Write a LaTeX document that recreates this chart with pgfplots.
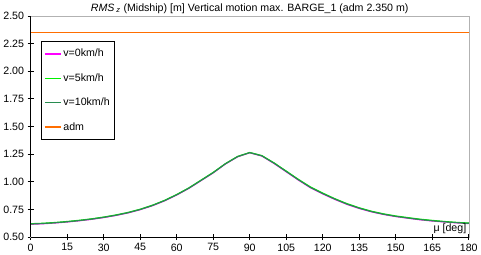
\documentclass[border=0pt]{standalone}
\usepackage{pgfplots}
\pgfplotsset{compat=1.18}
\usepackage{fontspec}
\setmainfont{Liberation Sans}
\definecolor{mag}{RGB}{255,0,255}
\definecolor{lgreen}{RGB}{0,240,0}
\definecolor{dgreen}{RGB}{40,140,80}
\definecolor{orng}{RGB}{255,110,0}
\begin{document}
\begin{tikzpicture}
\begin{axis}[
  scale only axis,
  width=433pt, height=218.6pt,
  xmin=0, xmax=180, ymin=0.5, ymax=2.5,
  xtick={0,15,...,180},
  ytick={0.5,0.75,...,2.5},
  /pgf/number format/assume math mode=true,
  yticklabel style={/pgf/number format/.cd,fixed,fixed zerofill,precision=2},
  tick label style={font=\fontsize{10.5}{12}\selectfont},
  tick pos=left,
  tick align=center,
  major tick length=6pt,
  tick style={black, line width=0.6pt},
  axis line style={draw=gray!60},
  title={\textit{RMS}\,\textsubscript{\textit{z}} (Midship) [m] Vertical motion max. BARGE\_1 (adm 2.350 m)},
  title style={font=\fontsize{10.5}{12}\selectfont, yshift=-7pt},
  xlabel={μ [deg]},
  xlabel style={font=\fontsize{10.5}{12}\selectfont, at={(rel axis cs:0.997,0.008)}, anchor=south east, inner sep=1pt},
  legend style={at={(rel axis cs:0.023,0.887)}, anchor=north west, draw=black, line width=0.6pt, font=\fontsize{10.5}{12}\selectfont, row sep=11pt, inner xsep=3pt, inner ysep=6pt, cells={anchor=west}},
  legend image code/.code={\draw[#1, line width=1.4pt] (0cm,0cm) -- (0.55cm,0cm);},
  after end axis/.code={
    \draw[black, line width=0.6pt] (rel axis cs:0,0) -- (rel axis cs:1,0);
    \draw[black, line width=0.6pt] (rel axis cs:0,0) -- (rel axis cs:0,1);
  },
]
\addplot[draw=mag, line width=1.2pt] coordinates {
(0,0.615) (5,0.620) (10,0.627) (15,0.636) (20,0.647) (25,0.660) (30,0.676) (35,0.695) (40,0.718) (45,0.747) (50,0.783) (55,0.827) (60,0.880) (65,0.940) (70,1.010) (75,1.080) (80,1.160) (85,1.225) (90,1.262) (95,1.232) (100,1.165) (105,1.090) (110,1.015) (115,0.945) (120,0.890) (125,0.840) (130,0.795) (135,0.758) (140,0.728) (145,0.704) (150,0.685) (155,0.670) (160,0.656) (165,0.645) (170,0.636) (175,0.628) (180,0.622)
};
\addlegendentry{v=0km/h}
\addplot[draw=lgreen, line width=1.2pt] coordinates {
(0,0.620) (5,0.624) (10,0.631) (15,0.640) (20,0.651) (25,0.664) (30,0.680) (35,0.699) (40,0.722) (45,0.751) (50,0.787) (55,0.831) (60,0.884) (65,0.944) (70,1.014) (75,1.084) (80,1.163) (85,1.228) (90,1.264) (95,1.236) (100,1.170) (105,1.096) (110,1.021) (115,0.952) (120,0.897) (125,0.846) (130,0.801) (135,0.764) (140,0.733) (145,0.709) (150,0.690) (155,0.675) (160,0.661) (165,0.650) (170,0.640) (175,0.632) (180,0.626)
};
\addlegendentry{v=5km/h}
\addplot[draw=dgreen, line width=1.1pt] coordinates {
(0,0.618) (5,0.622) (10,0.629) (15,0.638) (20,0.649) (25,0.662) (30,0.678) (35,0.697) (40,0.720) (45,0.749) (50,0.785) (55,0.829) (60,0.882) (65,0.942) (70,1.012) (75,1.082) (80,1.162) (85,1.227) (90,1.263) (95,1.234) (100,1.168) (105,1.093) (110,1.018) (115,0.948) (120,0.893) (125,0.843) (130,0.798) (135,0.761) (140,0.730) (145,0.706) (150,0.687) (155,0.672) (160,0.658) (165,0.647) (170,0.638) (175,0.630) (180,0.624)
};
\addlegendentry{v=10km/h}
\addplot[draw=orng, line width=1.2pt] coordinates {(0,2.35) (180,2.35)};
\addlegendentry{adm}
\end{axis}
\end{tikzpicture}
\end{document}
